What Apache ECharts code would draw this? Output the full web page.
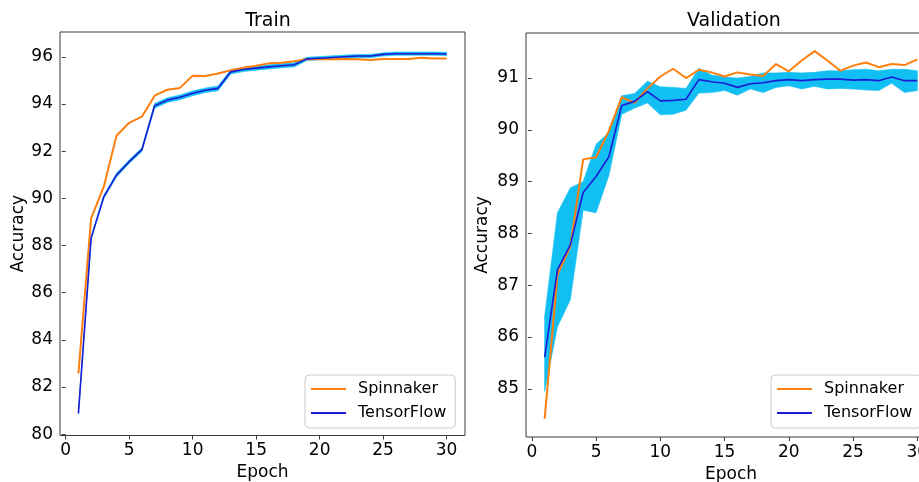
<!DOCTYPE html>
<html>
<head>
<meta charset="utf-8">
<script src="https://cdn.jsdelivr.net/npm/echarts@6/dist/echarts.min.js"></script>
<style>
html,body{margin:0;padding:0;background:#fff;}
#chart{width:919px;height:482px;}
</style>
</head>
<body>
<div id="chart"></div>
<script>
// ---------- data ----------
const epochs = [1,2,3,4,5,6,7,8,9,10,11,12,13,14,15,16,17,18,19,20,21,22,23,24,25,26,27,28,29,30];

const trainSpinnaker = [82.57,89.15,90.49,92.65,93.2,93.46,94.35,94.6,94.68,95.2,95.18,95.29,95.43,95.53,95.62,95.72,95.75,95.81,95.9,95.89,95.89,95.9,95.89,95.86,95.9,95.9,95.91,95.96,95.93,95.93];
const trainTensorFlow = [80.88,88.31,90.06,90.98,91.55,92.06,93.92,94.16,94.28,94.45,94.58,94.66,95.36,95.46,95.52,95.57,95.62,95.66,95.91,95.94,95.97,96.0,96.03,96.03,96.1,96.13,96.13,96.13,96.13,96.12];
const trainTFLow  = [80.84,88.25,89.99,90.9,91.47,91.98,93.82,94.06,94.18,94.35,94.48,94.56,95.27,95.37,95.43,95.48,95.53,95.57,95.84,95.87,95.9,95.93,95.96,95.96,96.03,96.06,96.06,96.06,96.06,96.05];
const trainTFHigh = [80.92,88.37,90.13,91.06,91.63,92.14,94.02,94.26,94.38,94.55,94.68,94.76,95.45,95.55,95.61,95.66,95.71,95.75,95.98,96.01,96.04,96.07,96.1,96.1,96.17,96.2,96.2,96.2,96.2,96.19];

const valSpinnaker = [84.42,87.2,87.75,89.43,89.47,89.98,90.63,90.52,90.8,91.03,91.18,91.0,91.16,91.11,91.03,91.11,91.07,91.04,91.27,91.13,91.34,91.52,91.34,91.14,91.24,91.3,91.21,91.27,91.25,91.36];
const valTensorFlow = [85.61,87.3,87.78,88.79,89.1,89.48,90.47,90.55,90.74,90.56,90.57,90.59,90.97,90.93,90.9,90.82,90.89,90.91,90.95,90.97,90.95,90.97,90.98,90.98,90.96,90.97,90.95,91.02,90.95,90.95];
const valTFLow  = [84.95,86.2,86.72,88.45,88.4,89.12,90.3,90.42,90.52,90.29,90.3,90.38,90.71,90.72,90.76,90.67,90.79,90.72,90.82,90.85,90.79,90.84,90.79,90.8,90.79,90.77,90.76,90.9,90.72,90.76];
const valTFHigh = [86.4,88.4,88.88,89.0,89.72,89.95,90.66,90.7,90.94,90.83,90.82,90.8,91.19,91.06,91.02,91.0,91.03,91.1,91.1,91.11,91.1,91.11,91.14,91.14,91.16,91.17,91.14,91.17,91.17,91.14];

const xTicks = [0,5,10,15,20,25,30];
const trainYTicks = [80,82,84,86,88,90,92,94,96];
const valYTicks = [85,86,87,88,89,90,91];

const titles = ['Train','Validation'];
const seriesNames = ['Spinnaker','TensorFlow'];
const xName = 'Epoch';
const yName = 'Accuracy';

// ---------- styles ----------
const ORANGE = '#ff7f0e';
const BLUE = '#1c1cd4';
const BAND = '#12bff2';
const FONT = 'DejaVu Sans';
const SPINE = '#3a3a3a';

function pairs(arr){ return epochs.map((e,i)=>[e, arr[i]]); }

function bandSeries(gi, low, high){
  return {
    type:'custom', xAxisIndex:gi, yAxisIndex:gi, z:1, silent:true,
    clip:true,
    data:[[epochs[0], low[0]]],
    renderItem:function(params, api){
      const pts = [];
      for(let i=0;i<epochs.length;i++) pts.push(api.coord([epochs[i], high[i]]));
      for(let i=epochs.length-1;i>=0;i--) pts.push(api.coord([epochs[i], low[i]]));
      return {type:'polygon', shape:{points:pts}, style:{fill:BAND, stroke:BAND, lineWidth:0.6}};
    }
  };
}

function xAxisCfg(gi){
  return {
    type:'value', gridIndex:gi, min:-0.45, max:31.45,
    name:xName, nameLocation:'middle', nameGap:26,
    nameTextStyle:{fontFamily:FONT,fontSize:17,color:'#000'},
    axisLine:{show:false},
    axisTick:{show:true,inside:false,length:4,customValues:xTicks,lineStyle:{color:SPINE,width:1}},
    axisLabel:{customValues:xTicks,fontFamily:FONT,fontSize:17,color:'#000',margin:7},
    splitLine:{show:false}
  };
}
function yAxisCfg(gi, min, max, ticks, gap){
  return {
    type:'value', gridIndex:gi, min:min, max:max,
    name:yName, nameLocation:'middle', nameGap:gap,
    nameTextStyle:{fontFamily:FONT,fontSize:17,color:'#000'},
    axisLine:{show:false},
    axisTick:{show:true,inside:false,length:4,customValues:ticks,lineStyle:{color:SPINE,width:1}},
    axisLabel:{customValues:ticks,fontFamily:FONT,fontSize:17,color:'#000',margin:7},
    splitLine:{show:false}
  };
}
function legendCfg(left){
  return {
    show:true, orient:'vertical', left:left, top:375,
    data:[{name:seriesNames[0]},{name:seriesNames[1]}],
    icon:'rect', itemWidth:35, itemHeight:2, itemGap:6,
    padding:[5,9,6,6],
    borderColor:'#cccccc', borderWidth:1, borderRadius:4,
    backgroundColor:'rgba(255,255,255,0.85)',
    textStyle:{fontFamily:FONT,fontSize:16,color:'#000',lineHeight:18,padding:[0,0,0,7]}
  };
}

const chart = echarts.init(document.getElementById('chart'), null, {renderer:'canvas'});
const option = {
  animation:false,
  backgroundColor:'#fff',
  title:[
    {text:titles[0], left:263, top:7, textAlign:'center', textStyle:{fontFamily:FONT,fontSize:19,fontWeight:'normal',color:'#000'}},
    {text:titles[1], left:729, top:7, textAlign:'center', textStyle:{fontFamily:FONT,fontSize:19,fontWeight:'normal',color:'#000'}}
  ],
  grid:[
    {left:60, top:32, width:405, height:403.5, show:true, borderColor:SPINE, borderWidth:1, backgroundColor:'transparent', containLabel:false, outerBoundsMode:'none'},
    {left:526, top:33, width:410, height:404, show:true, borderColor:SPINE, borderWidth:1, backgroundColor:'transparent', containLabel:false, outerBoundsMode:'none'}
  ],
  xAxis:[xAxisCfg(0), xAxisCfg(1)],
  yAxis:[
    yAxisCfg(0, 79.94, 97.05, trainYTicks, 33),
    yAxisCfg(1, 84.07, 91.87, valYTicks, 35)
  ],
  legend:[legendCfg(305), legendCfg(771)],
  series:[
    bandSeries(0, trainTFLow, trainTFHigh),
    {type:'line', name:seriesNames[0], xAxisIndex:0, yAxisIndex:0, data:pairs(trainSpinnaker), symbol:'none', lineStyle:{color:ORANGE,width:2}, itemStyle:{color:ORANGE}, z:2},
    {type:'line', name:seriesNames[1], xAxisIndex:0, yAxisIndex:0, data:pairs(trainTensorFlow), symbol:'none', lineStyle:{color:BLUE,width:1.6}, itemStyle:{color:BLUE}, z:3},
    bandSeries(1, valTFLow, valTFHigh),
    {type:'line', name:seriesNames[0], xAxisIndex:1, yAxisIndex:1, data:pairs(valSpinnaker), symbol:'none', lineStyle:{color:ORANGE,width:2}, itemStyle:{color:ORANGE}, z:2},
    {type:'line', name:seriesNames[1], xAxisIndex:1, yAxisIndex:1, data:pairs(valTensorFlow), symbol:'none', lineStyle:{color:BLUE,width:1.6}, itemStyle:{color:BLUE}, z:3}
  ]
};
chart.setOption(option);
</script>
</body>
</html>
